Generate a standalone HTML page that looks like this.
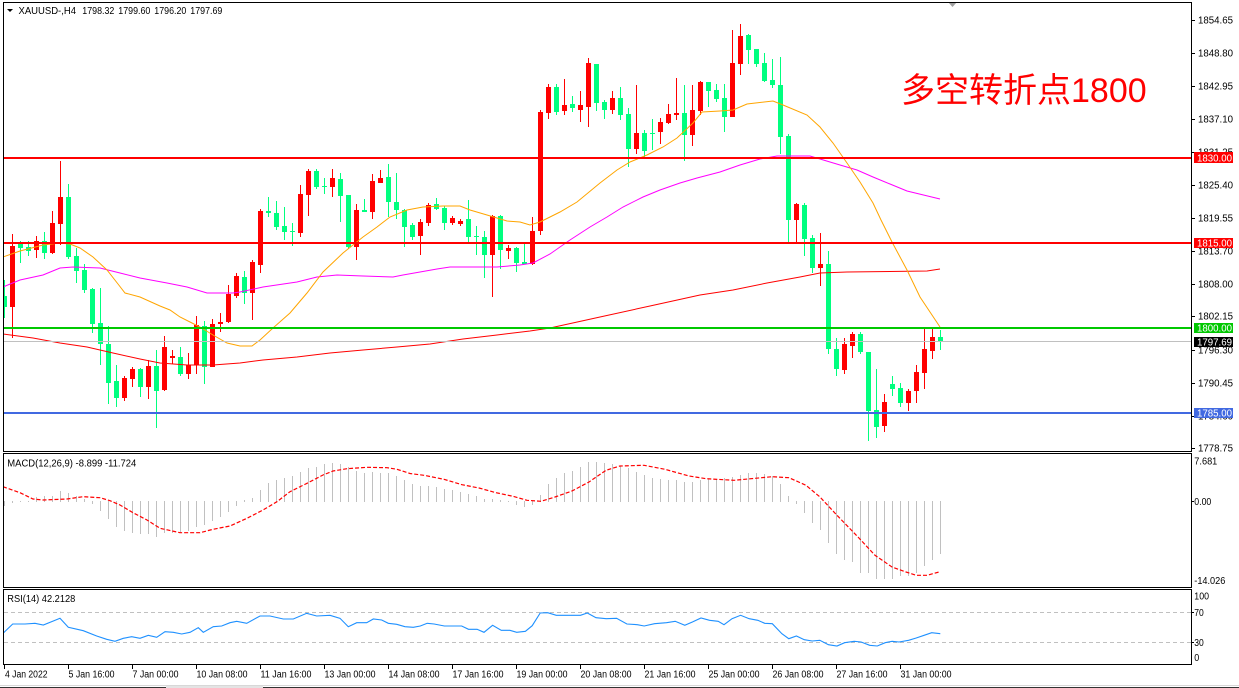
<!DOCTYPE html>
<html><head><meta charset="utf-8"><style>
html,body{margin:0;padding:0;background:#fff;}
svg{display:block;}
text{font-family:"Liberation Sans","Noto Sans CJK SC",sans-serif;}
</style></head><body>
<svg width="1239" height="688" viewBox="0 0 1239 688" xmlns="http://www.w3.org/2000/svg">
<defs>
<clipPath id="cm"><rect x="4" y="3" width="1187" height="448"/></clipPath>
<clipPath id="cd"><rect x="4" y="454" width="1187" height="133"/></clipPath>
<clipPath id="cr"><rect x="4" y="590" width="1187" height="74"/></clipPath>
</defs>
<rect width="1239" height="688" fill="#fff"/>

<!-- MAIN -->
<g clip-path="url(#cm)">
<g shape-rendering="crispEdges">
<path fill="#00ff7f" d="M4 280h1v38h-1zM20 241h1v22h-1zM28 241h1v15h-1zM44 232h1v27h-1zM68 184h1v75h-1zM76 248h1v35h-1zM84 264h1v29h-1zM92 288h1v45h-1zM100 288h1v77h-1zM108 326h1v78h-1zM116 365h1v42h-1zM140 368h1v29h-1zM156 350h1v78h-1zM180 347h1v29h-1zM204 321h1v63h-1zM244 271h1v33h-1zM268 197h1v20h-1zM276 201h1v29h-1zM284 207h1v33h-1zM292 223h1v23h-1zM316 169h1v20h-1zM324 178h1v16h-1zM340 173h1v49h-1zM348 195h1v54h-1zM364 199h1v13h-1zM388 164h1v53h-1zM396 173h1v46h-1zM404 209h1v38h-1zM412 223h1v17h-1zM436 198h1v12h-1zM444 206h1v24h-1zM468 200h1v42h-1zM476 226h1v29h-1zM484 231h1v47h-1zM500 215h1v54h-1zM516 247h1v25h-1zM524 244h1v20h-1zM556 84h1v31h-1zM572 96h1v16h-1zM596 64h1v47h-1zM604 100h1v19h-1zM620 87h1v33h-1zM628 108h1v59h-1zM644 130h1v27h-1zM652 119h1v31h-1zM684 85h1v76h-1zM708 82h1v25h-1zM716 84h1v18h-1zM724 84h1v48h-1zM748 34h1v30h-1zM756 49h1v18h-1zM764 53h1v29h-1zM772 59h1v29h-1zM780 57h1v97h-1zM788 134h1v108h-1zM804 203h1v53h-1zM812 235h1v38h-1zM828 251h1v103h-1zM836 338h1v38h-1zM860 332h1v22h-1zM868 352h1v89h-1zM876 369h1v69h-1zM892 376h1v20h-1zM900 383h1v24h-1zM940 330h1v20h-1z"/>
<path fill="#00ff7f" d="M2 296h5v11h-5zM18 244h5v4h-5zM26 247h5v4h-5zM42 241h5v12h-5zM66 197h5v60h-5zM74 256h5v15h-5zM82 270h5v20h-5zM90 289h5v35h-5zM98 323h5v21h-5zM106 344h5v39h-5zM114 381h5v17h-5zM138 369h5v18h-5zM154 366h5v25h-5zM178 357h5v17h-5zM202 326h5v41h-5zM242 277h5v16h-5zM266 211h5v2h-5zM274 213h5v14h-5zM282 226h5v6h-5zM290 231h5v1h-5zM314 171h5v16h-5zM322 186h5v1h-5zM338 179h5v17h-5zM346 195h5v52h-5zM362 210h5v2h-5zM386 177h5v25h-5zM394 202h5v8h-5zM402 210h5v17h-5zM410 225h5v12h-5zM434 204h5v5h-5zM442 208h5v15h-5zM466 219h5v18h-5zM474 236h5v1h-5zM482 237h5v18h-5zM498 216h5v34h-5zM514 248h5v15h-5zM522 262h5v2h-5zM554 87h5v25h-5zM570 104h5v4h-5zM594 64h5v39h-5zM602 102h5v8h-5zM618 98h5v17h-5zM626 114h5v35h-5zM642 133h5v18h-5zM650 133h5v1h-5zM682 113h5v22h-5zM706 82h5v9h-5zM714 90h5v9h-5zM722 98h5v19h-5zM746 35h5v15h-5zM754 49h5v15h-5zM762 63h5v18h-5zM770 80h5v5h-5zM778 85h5v52h-5zM786 136h5v84h-5zM802 205h5v34h-5zM810 238h5v30h-5zM826 264h5v85h-5zM834 349h5v20h-5zM858 334h5v18h-5zM866 352h5v59h-5zM874 410h5v17h-5zM890 384h5v5h-5zM898 388h5v15h-5zM938 337h5v5h-5z"/>
<path fill="#ff0000" d="M12 234h1v104h-1zM36 236h1v22h-1zM52 211h1v43h-1zM60 161h1v84h-1zM124 376h1v25h-1zM132 367h1v20h-1zM148 360h1v39h-1zM164 336h1v55h-1zM172 350h1v14h-1zM188 353h1v26h-1zM196 316h1v58h-1zM212 319h1v48h-1zM220 313h1v19h-1zM228 285h1v38h-1zM236 273h1v25h-1zM252 260h1v60h-1zM260 209h1v64h-1zM300 185h1v52h-1zM308 169h1v47h-1zM332 169h1v28h-1zM356 204h1v56h-1zM372 174h1v45h-1zM380 170h1v13h-1zM420 219h1v36h-1zM428 203h1v23h-1zM452 216h1v9h-1zM460 219h1v7h-1zM492 215h1v82h-1zM508 245h1v14h-1zM532 217h1v48h-1zM540 110h1v125h-1zM548 84h1v35h-1zM564 79h1v36h-1zM580 91h1v31h-1zM588 58h1v69h-1zM612 91h1v23h-1zM636 85h1v69h-1zM660 118h1v26h-1zM668 104h1v20h-1zM676 78h1v42h-1zM692 85h1v61h-1zM700 81h1v34h-1zM732 30h1v87h-1zM740 24h1v51h-1zM796 203h1v40h-1zM820 233h1v53h-1zM844 338h1v36h-1zM852 332h1v26h-1zM884 394h1v38h-1zM908 389h1v22h-1zM916 365h1v38h-1zM924 329h1v60h-1zM932 329h1v30h-1z"/>
<path fill="#ff0000" d="M10 246h5v61h-5zM34 241h5v9h-5zM50 223h5v30h-5zM58 197h5v27h-5zM122 378h5v20h-5zM130 369h5v10h-5zM146 366h5v21h-5zM162 347h5v43h-5zM170 356h5v2h-5zM186 365h5v9h-5zM194 325h5v40h-5zM210 324h5v43h-5zM218 322h5v2h-5zM226 294h5v28h-5zM234 276h5v20h-5zM250 262h5v31h-5zM258 211h5v54h-5zM298 194h5v39h-5zM306 171h5v24h-5zM330 178h5v9h-5zM354 210h5v37h-5zM370 181h5v31h-5zM378 178h5v5h-5zM418 222h5v14h-5zM426 205h5v18h-5zM450 218h5v5h-5zM458 221h5v3h-5zM490 216h5v39h-5zM506 248h5v3h-5zM530 231h5v33h-5zM538 112h5v119h-5zM546 87h5v26h-5zM562 105h5v6h-5zM578 105h5v5h-5zM586 63h5v44h-5zM610 98h5v12h-5zM634 133h5v16h-5zM658 122h5v10h-5zM666 114h5v9h-5zM674 113h5v2h-5zM690 110h5v25h-5zM698 82h5v29h-5zM730 63h5v54h-5zM738 36h5v28h-5zM794 204h5v16h-5zM818 264h5v4h-5zM842 344h5v26h-5zM850 334h5v12h-5zM882 402h5v24h-5zM906 391h5v12h-5zM914 372h5v19h-5zM922 349h5v24h-5zM930 337h5v14h-5z"/>
</g>
<!-- moving averages -->
<polyline fill="none" stroke="#ff0000" stroke-width="1" points="3,334 33,338 60,343 87,347 113,353 140,359 160,363 187,365 213,365 240,363 263,360 297,357 330,353 363,350 397,347 430,344 463,339 497,335 530,331 550,328 600,317 650,306 700,295 733,290 767,283 800,277 820,273 847,272 927,271 940,269"/>
<polyline fill="none" stroke="#ff00ff" stroke-width="1" points="3,287 20,280 43,275 60,268 73,267 100,268 120,273 140,278 167,283 187,287 207,293 233,293 240,292 263,287 297,282 317,277 337,275 363,276 393,277 403,275 437,269 450,267 497,267 520,265 533,263 550,254 570,240 590,227 607,217 623,207 643,197 660,190 680,183 697,178 720,172 740,165 760,159 777,156 810,156 820,159 840,165 857,170 873,177 890,184 907,191 940,199"/>
<polyline fill="none" stroke="#ffa500" stroke-width="1" points="3,257 20,251 43,245 60,243 70,244 80,248 93,257 107,270 118,284 125,293 140,297 160,306 170,310 180,317 190,322 200,327 213,335 227,343 240,346 252,346 260,340 273,328 290,313 307,293 323,272 343,253 363,237 377,227 390,217 407,210 423,207 443,206 460,206 470,210 487,215 507,221 520,222 530,225 540,222 560,212 577,202 600,183 617,170 630,162 647,155 663,147 677,138 693,123 702,112 720,111 733,110 747,104 773,101 783,105 807,115 820,127 833,143 847,163 860,182 873,203 881,220 892,242 907,270 920,297 940,327"/>
<!-- levels -->
<g shape-rendering="crispEdges">
<rect x="4" y="157" width="1187" height="2" fill="#ff0000"/>
<rect x="4" y="242" width="1187" height="2" fill="#ff0000"/>
<rect x="4" y="327" width="1187" height="2" fill="#00c800"/>
<rect x="4" y="341" width="1187" height="1" fill="#c0c0c0"/>
<rect x="4" y="412" width="1187" height="2" fill="#4169e1"/>
</g>
</g>
<text x="901" y="102" font-size="34" fill="#ff0000">多空转折点1800</text>
<polygon points="948,2 957,2 952.5,7" fill="#a0a0a0"/>
<polygon points="7,9 13,9 10,12" fill="#000"/>
<text font-size="10" fill="#000" y="14"><tspan x="18.5" textLength="57.5" lengthAdjust="spacingAndGlyphs">XAUUSD-,H4</tspan></text>
<text font-size="10" fill="#000" y="14" x="82.3" textLength="32" lengthAdjust="spacingAndGlyphs">1798.32</text>
<text font-size="10" fill="#000" y="14" x="118.3" textLength="32" lengthAdjust="spacingAndGlyphs">1799.60</text>
<text font-size="10" fill="#000" y="14" x="154.3" textLength="32" lengthAdjust="spacingAndGlyphs">1796.20</text>
<text font-size="10" fill="#000" y="14" x="190.3" textLength="32" lengthAdjust="spacingAndGlyphs">1797.69</text>

<!-- price axis -->
<g shape-rendering="crispEdges" fill="#000">
<rect x="1192" y="20" width="3" height="1"/><rect x="1192" y="53" width="3" height="1"/><rect x="1192" y="86" width="3" height="1"/><rect x="1192" y="119" width="3" height="1"/><rect x="1192" y="152" width="3" height="1"/><rect x="1192" y="185" width="3" height="1"/><rect x="1192" y="218" width="3" height="1"/><rect x="1192" y="251" width="3" height="1"/><rect x="1192" y="284" width="3" height="1"/><rect x="1192" y="316" width="3" height="1"/><rect x="1192" y="350" width="3" height="1"/><rect x="1192" y="383" width="3" height="1"/><rect x="1192" y="416" width="3" height="1"/><rect x="1192" y="448" width="3" height="1"/>
</g>
<g font-size="10" fill="#000" lengthAdjust="spacingAndGlyphs">
<text x="1198" y="23.6" textLength="35" lengthAdjust="spacingAndGlyphs">1854.65</text>
<text x="1198" y="56.6" textLength="35" lengthAdjust="spacingAndGlyphs">1848.80</text>
<text x="1198" y="89.6" textLength="35" lengthAdjust="spacingAndGlyphs">1842.95</text>
<text x="1198" y="122.6" textLength="35" lengthAdjust="spacingAndGlyphs">1837.10</text>
<text x="1198" y="155.6" textLength="35" lengthAdjust="spacingAndGlyphs">1831.25</text>
<text x="1198" y="188.6" textLength="35" lengthAdjust="spacingAndGlyphs">1825.40</text>
<text x="1198" y="221.6" textLength="35" lengthAdjust="spacingAndGlyphs">1819.55</text>
<text x="1198" y="254.6" textLength="35" lengthAdjust="spacingAndGlyphs">1813.70</text>
<text x="1198" y="287.6" textLength="35" lengthAdjust="spacingAndGlyphs">1808.00</text>
<text x="1198" y="319.6" textLength="35" lengthAdjust="spacingAndGlyphs">1802.15</text>
<text x="1198" y="353.6" textLength="35" lengthAdjust="spacingAndGlyphs">1796.30</text>
<text x="1198" y="386.6" textLength="35" lengthAdjust="spacingAndGlyphs">1790.45</text>
<text x="1198" y="419.6" textLength="35" lengthAdjust="spacingAndGlyphs">1784.60</text>
<text x="1198" y="451.6" textLength="35" lengthAdjust="spacingAndGlyphs">1778.75</text>
</g>
<g shape-rendering="crispEdges">
<rect x="1194" y="152" width="39" height="11" fill="#ff0000"/>
<rect x="1194" y="238" width="39" height="10" fill="#ff0000"/>
<rect x="1194" y="323" width="39" height="10" fill="#00c800"/>
<rect x="1194" y="337" width="39" height="10" fill="#000"/>
<rect x="1194" y="408" width="39" height="10" fill="#4169e1"/>
</g>
<g font-size="10" fill="#fff">
<text x="1197" y="161.3" textLength="35" lengthAdjust="spacingAndGlyphs">1830.00</text>
<text x="1197" y="246.6" textLength="35" lengthAdjust="spacingAndGlyphs">1815.00</text>
<text x="1197" y="331.6" textLength="35" lengthAdjust="spacingAndGlyphs">1800.00</text>
<text x="1197" y="345.6" textLength="35" lengthAdjust="spacingAndGlyphs">1797.69</text>
<text x="1197" y="416.6" textLength="35" lengthAdjust="spacingAndGlyphs">1785.00</text>
</g>

<!-- MACD -->
<g clip-path="url(#cd)">
<path shape-rendering="crispEdges" fill="#c0c0c0" d="M4 501h1v5h-1zM12 501h1v2h-1zM20 501h1v1h-1zM28 501h1v1h-1zM36 497h1v5h-1zM44 496h1v6h-1zM52 496h1v6h-1zM60 491h1v11h-1zM68 493h1v9h-1zM76 496h1v6h-1zM84 499h1v3h-1zM92 501h1v3h-1zM100 501h1v10h-1zM108 501h1v18h-1zM116 501h1v26h-1zM124 501h1v30h-1zM132 501h1v32h-1zM140 501h1v33h-1zM148 501h1v33h-1zM156 501h1v36h-1zM164 501h1v32h-1zM172 501h1v32h-1zM180 501h1v32h-1zM188 501h1v30h-1zM196 501h1v26h-1zM204 501h1v24h-1zM212 501h1v20h-1zM220 501h1v16h-1zM228 501h1v11h-1zM236 501h1v5h-1zM244 500h1v2h-1zM252 498h1v4h-1zM260 490h1v12h-1zM268 483h1v19h-1zM276 480h1v22h-1zM284 478h1v24h-1zM292 476h1v26h-1zM300 472h1v30h-1zM308 468h1v34h-1zM316 467h1v35h-1zM324 464h1v38h-1zM332 463h1v39h-1zM340 464h1v38h-1zM348 467h1v35h-1zM356 471h1v31h-1zM364 473h1v29h-1zM372 472h1v30h-1zM380 473h1v29h-1zM388 473h1v29h-1zM396 476h1v26h-1zM404 480h1v22h-1zM412 484h1v18h-1zM420 486h1v16h-1zM428 486h1v16h-1zM436 487h1v15h-1zM444 489h1v13h-1zM452 490h1v12h-1zM460 492h1v10h-1zM468 494h1v8h-1zM476 496h1v6h-1zM484 499h1v3h-1zM492 499h1v3h-1zM500 500h1v2h-1zM508 501h1v1h-1zM516 501h1v4h-1zM524 501h1v6h-1zM532 501h1v4h-1zM540 495h1v7h-1zM548 484h1v18h-1zM556 478h1v24h-1zM564 473h1v29h-1zM572 471h1v31h-1zM580 467h1v35h-1zM588 462h1v40h-1zM596 462h1v40h-1zM604 463h1v39h-1zM612 464h1v38h-1zM620 466h1v36h-1zM628 468h1v34h-1zM636 472h1v30h-1zM644 475h1v27h-1zM652 478h1v24h-1zM660 479h1v23h-1zM668 480h1v22h-1zM676 480h1v22h-1zM684 482h1v20h-1zM692 482h1v20h-1zM700 480h1v22h-1zM708 479h1v23h-1zM716 479h1v23h-1zM724 478h1v24h-1zM732 477h1v25h-1zM740 475h1v27h-1zM748 473h1v29h-1zM756 473h1v29h-1zM764 474h1v28h-1zM772 476h1v26h-1zM780 484h1v18h-1zM788 496h1v6h-1zM796 501h1v3h-1zM804 501h1v12h-1zM812 501h1v22h-1zM820 501h1v29h-1zM828 501h1v42h-1zM836 501h1v53h-1zM844 501h1v59h-1zM852 501h1v61h-1zM860 501h1v72h-1zM868 501h1v72h-1zM876 501h1v78h-1zM884 501h1v78h-1zM892 501h1v78h-1zM900 501h1v75h-1zM908 501h1v75h-1zM916 501h1v72h-1zM924 501h1v65h-1zM932 501h1v59h-1zM940 501h1v53h-1z"/>
<polyline fill="none" stroke="#ff0000" stroke-width="1.2" stroke-dasharray="4,2" points="3,486.7 20,492.7 33,499 43,500 67,499 83,496.7 100,497.7 110,500.7 120,505 133,512.7 147,520 160,528.3 180,532.7 200,532.7 213,529.3 230,526 247,518.3 263,510 277,501.7 290,491.7 307,483.3 323,475 333,471 347,468.7 367,467.3 387,467.7 397,469.3 410,473.5 424,475.3 444,479.3 462,484.7 479,488 496,492.7 513,496.3 527,500.3 541,501.3 555,497 572,491 589,482 606,470.3 620,466 644,465.3 665,469.3 689,476 706,478.7 734,480.3 751,478.7 772,476.7 789,477.7 806,485.3 820,497 837,515.3 858,537 875,555.3 892,567 906,572 916,575.3 927,575.3 939,572"/>
</g>
<text x="7.3" y="466.5" font-size="10" fill="#000" textLength="129" lengthAdjust="spacingAndGlyphs">MACD(12,26,9) -8.899 -11.724</text>
<g shape-rendering="crispEdges" fill="#000">
<rect x="1192" y="501" width="2" height="1"/>
</g>
<g font-size="10" fill="#000">
<text x="1194.3" y="464.5" textLength="23" lengthAdjust="spacingAndGlyphs">7.681</text>
<text x="1194.3" y="505" textLength="17" lengthAdjust="spacingAndGlyphs">0.00</text>
<text x="1194.3" y="584" textLength="31" lengthAdjust="spacingAndGlyphs">-14.026</text>
</g>

<!-- RSI -->
<g clip-path="url(#cr)">
<line x1="4" y1="612.5" x2="1191" y2="612.5" stroke="#c0c0c0" stroke-width="1" stroke-dasharray="4,3"/>
<line x1="4" y1="642.5" x2="1191" y2="642.5" stroke="#c0c0c0" stroke-width="1" stroke-dasharray="4,3"/>
<polyline fill="none" stroke="#1e90ff" stroke-width="1.1" points="3,633.3 12.7,624 25,624 35,623.3 43.3,625 53.3,621 60,618.3 68.3,627.3 83.3,630.7 96.7,636 106.7,639.3 115,641.3 123.3,638.3 131.7,636.7 140,638.3 148.3,635.3 156.7,637.3 165,631.7 173.3,632.3 181.7,634 190,632.3 198.3,627.7 203.3,632.3 213.3,626.7 221.7,626 230,622.7 236.7,621.3 246.7,623.3 260,616 270,616 283.3,619 293.3,619 306.7,613.3 316.7,616 330,615.3 340,618.3 348.3,626.7 356.7,622.7 366.7,622.7 373.3,619 381.7,620 388.3,623.3 396.7,624.3 405,626.7 413.3,627.3 420.3,626 427.2,623.3 434.1,624 444.4,626 461.7,626 468.5,629.3 477.1,629.3 484,632.3 492.6,625.3 501.3,630.3 509.9,630.3 516.7,632.3 525.4,631.3 532.2,625.7 540.2,613 547.7,612.7 556.3,615.3 580.5,615.3 587.3,613 596,617.7 606.3,618.7 616.6,618.3 626.9,624 637.3,624.7 644.2,626 654.5,623.7 666.5,622.7 675.2,621.3 684.8,625.3 692.4,622 701,618 709.6,620.3 718.2,621.3 724,624.7 732,618.7 740.6,615.3 749.2,618.7 757.8,620.3 764.7,623.3 772.3,623.7 781.9,633.7 788.8,638.7 796.4,636 804.3,639.7 812.2,641 819.8,640.3 828.4,644.7 837,646 844.6,642.7 854.2,641.3 861.1,642 869.7,645.3 877.3,646 885.2,642.7 892.1,641.3 899,642 908.6,640.3 916.2,638 924.1,635.3 931.7,632.7 940.3,633.7"/>
</g>
<text x="7.3" y="602" font-size="10" fill="#000" textLength="68" lengthAdjust="spacingAndGlyphs">RSI(14) 42.2128</text>
<g shape-rendering="crispEdges" fill="#000">
<rect x="1192" y="612" width="2" height="1"/><rect x="1192" y="642" width="2" height="1"/>
</g>
<g font-size="10" fill="#000">
<text x="1194.3" y="599.5" textLength="14.7" lengthAdjust="spacingAndGlyphs">100</text>
<text x="1194.3" y="616" textLength="9.5" lengthAdjust="spacingAndGlyphs">70</text>
<text x="1194.3" y="645.8" textLength="9.5" lengthAdjust="spacingAndGlyphs">30</text>
<text x="1194.3" y="661" textLength="5" lengthAdjust="spacingAndGlyphs">0</text>
</g>

<!-- frames -->
<g fill="none" stroke="#000" stroke-width="1" shape-rendering="crispEdges">
<rect x="3.5" y="2.5" width="1188" height="449"/>
<rect x="3.5" y="453.5" width="1188" height="134"/>
<rect x="3.5" y="589.5" width="1188" height="75"/>
</g>

<!-- time axis -->
<g shape-rendering="crispEdges" fill="#000">
<rect x="4" y="665" width="1" height="4"/><rect x="68" y="665" width="1" height="4"/><rect x="132" y="665" width="1" height="4"/><rect x="196" y="665" width="1" height="4"/><rect x="260" y="665" width="1" height="4"/><rect x="324" y="665" width="1" height="4"/><rect x="388" y="665" width="1" height="4"/><rect x="452" y="665" width="1" height="4"/><rect x="516" y="665" width="1" height="4"/><rect x="580" y="665" width="1" height="4"/><rect x="644" y="665" width="1" height="4"/><rect x="708" y="665" width="1" height="4"/><rect x="772" y="665" width="1" height="4"/><rect x="836" y="665" width="1" height="4"/><rect x="900" y="665" width="1" height="4"/>
</g>
<g font-size="10" fill="#000">
<text x="5" y="677.3" textLength="42.5" lengthAdjust="spacingAndGlyphs">4 Jan 2022</text>
<text x="68.5" y="677.3" textLength="46" lengthAdjust="spacingAndGlyphs">5 Jan 16:00</text>
<text x="132.5" y="677.3" textLength="46" lengthAdjust="spacingAndGlyphs">7 Jan 00:00</text>
<text x="196.5" y="677.3" textLength="51" lengthAdjust="spacingAndGlyphs">10 Jan 08:00</text>
<text x="260.5" y="677.3" textLength="51" lengthAdjust="spacingAndGlyphs">11 Jan 16:00</text>
<text x="324.5" y="677.3" textLength="51" lengthAdjust="spacingAndGlyphs">13 Jan 00:00</text>
<text x="388.5" y="677.3" textLength="51" lengthAdjust="spacingAndGlyphs">14 Jan 08:00</text>
<text x="452.5" y="677.3" textLength="51" lengthAdjust="spacingAndGlyphs">17 Jan 16:00</text>
<text x="516.5" y="677.3" textLength="51" lengthAdjust="spacingAndGlyphs">19 Jan 00:00</text>
<text x="580.5" y="677.3" textLength="51" lengthAdjust="spacingAndGlyphs">20 Jan 08:00</text>
<text x="644.5" y="677.3" textLength="51" lengthAdjust="spacingAndGlyphs">21 Jan 16:00</text>
<text x="708.5" y="677.3" textLength="51" lengthAdjust="spacingAndGlyphs">25 Jan 00:00</text>
<text x="772.5" y="677.3" textLength="51" lengthAdjust="spacingAndGlyphs">26 Jan 08:00</text>
<text x="836.5" y="677.3" textLength="51" lengthAdjust="spacingAndGlyphs">27 Jan 16:00</text>
<text x="900.5" y="677.3" textLength="51" lengthAdjust="spacingAndGlyphs">31 Jan 00:00</text>
</g>
<g shape-rendering="crispEdges">
<rect x="0" y="685" width="1239" height="1" fill="#d8d8d8"/>
<rect x="0" y="687" width="1239" height="1" fill="#333"/>
<rect x="166" y="686" width="97" height="2" fill="#e4e4e4"/>
</g>
</svg>
</body></html>
